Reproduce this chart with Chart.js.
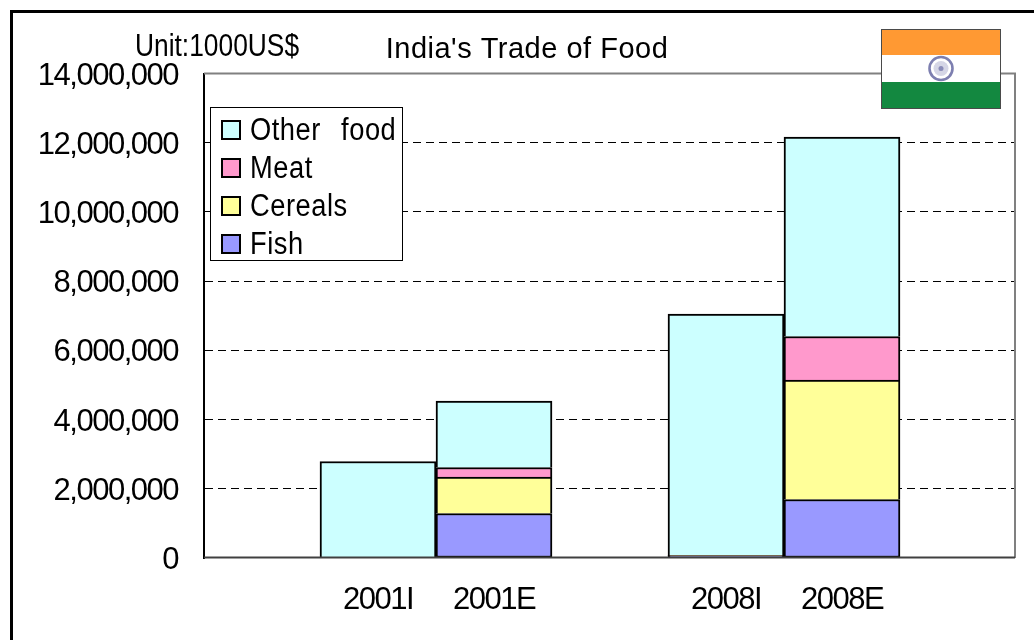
<!DOCTYPE html>
<html>
<head>
<meta charset="utf-8">
<style>
html,body{margin:0;padding:0;background:#fff;overflow:hidden}
#wrap{position:relative;width:1034px;height:640px;overflow:hidden}
#frame{position:absolute;left:10px;top:10px;width:1100px;height:700px;border-left:3px solid #000;border-top:3px solid #000;pointer-events:none}
canvas{position:absolute;left:0;top:0}
#unit{position:absolute;left:135px;top:28px;font:31px "Liberation Sans",sans-serif;color:#000;line-height:36px;white-space:nowrap;transform:scaleX(.85);transform-origin:left center}
#legend{position:absolute;left:210px;top:107px;width:191px;height:152px;border:1px solid #000;background:#fff}
.row{position:absolute;left:10px;height:38px;display:flex;align-items:center;font:31px "Liberation Sans",sans-serif;white-space:nowrap}
.sw{width:16px;height:16px;border:2px solid #000;margin-right:9px;flex:none}
.tx{display:inline-block;letter-spacing:.6px;word-spacing:13.8px;transform:scaleX(.88);transform-origin:left center;position:relative}
#flag{position:absolute;left:881px;top:29px}
</style>
</head>
<body>
<div id="wrap">
<canvas id="c" width="1034" height="640"></canvas>
<div id="frame"></div>
<div id="unit">Unit:1000US$</div>
<div id="legend"></div>
<svg id="flag" width="120" height="80" viewBox="0 0 120 80">
<rect x="0" y="0" width="120" height="26" fill="#FF9933"/>
<rect x="0" y="26" width="120" height="27" fill="#FFFFFF"/>
<rect x="0" y="53" width="120" height="27" fill="#138840"/>
<rect x=".5" y=".5" width="119" height="79" fill="none" stroke="#4a4a4a"/>
<circle cx="60" cy="39.5" r="11.5" fill="#fff" stroke="#7d7fb0" stroke-width="2.6"/>
<circle cx="60" cy="39.5" r="7.5" fill="#d5d6e6"/>
<circle cx="60" cy="39.5" r="2.5" fill="#8a8cb8"/>
</svg>
</div>
<script src="https://cdn.jsdelivr.net/npm/chart.js@4/dist/chart.umd.min.js"></script>
<script>
const categories = ['', '2001I', '2001E', '', '2008I', '2008E', ''];
const fish      = [null, null,    1286000, null, 60000,   1690000, null];
const cereals   = [null, null,    1055000, null, 10000,   3453000, null];
const meat      = [null, null,     274000, null, 5000,    1257000, null];
const otherFood = [null, 2788000, 1922000, null, 6975000, 5765000, null];
const seriesNames = ['Fish', 'Cereals', 'Meat', 'Other food'];
const seriesColors = ['#9999FF', '#FFFF99', '#FF99CC', '#CCFFFF'];
const seriesValues = [fish, cereals, meat, otherFood];
const tickStep = 2000000;
const tickMax = 14000000;
const chartTitle = "India's Trade of Food";
const FONT = '"Liberation Sans",sans-serif';

function withSpacing(obj, method, ctx, spacing) {
  const d = obj[method];
  obj[method] = function (...args) {
    ctx.letterSpacing = spacing;
    d.apply(this, args);
    ctx.letterSpacing = '0px';
  };
}

const framePlugin = {
  id: 'plotBorder',
  afterInit(chart) {
    if (chart.titleBlock) withSpacing(chart.titleBlock, 'draw', chart.ctx, '0.5px');
  },
  beforeDraw(chart) {
    if (chart.$patched) return;
    chart.$patched = true;
    withSpacing(chart.scales.x, 'drawLabels', chart.ctx, '-1.5px');
    withSpacing(chart.scales.y, 'drawLabels', chart.ctx, '-1.5px');
  },
  beforeDatasetsDraw(chart) {
    const {ctx, chartArea: a} = chart;
    ctx.save();
    ctx.strokeStyle = '#808080';
    ctx.lineWidth = 2;
    ctx.beginPath();
    ctx.moveTo(a.left, a.top);
    ctx.lineTo(a.right - 1, a.top);
    ctx.lineTo(a.right - 1, a.bottom);
    ctx.stroke();
    ctx.restore();
  },
  afterDatasetsDraw(chart) {
    const {ctx, chartArea: a} = chart;
    ctx.save();
    ctx.strokeStyle = '#404040';
    ctx.lineWidth = 2;
    ctx.beginPath();
    ctx.moveTo(a.left, a.bottom - 0.5);
    ctx.lineTo(a.right - 1, a.bottom - 0.5);
    ctx.stroke();
    ctx.restore();
  }
};

const chart = new Chart(document.getElementById('c'), {
  type: 'bar',
  data: {
    labels: categories,
    datasets: seriesNames.map((n, i) => ({
      label: n,
      data: seriesValues[i],
      backgroundColor: seriesColors[i],
      borderColor: '#000',
      borderWidth: 2,
      borderSkipped: i === 0 ? false : 'start',
      barPercentage: 1,
      categoryPercentage: 1
    }))
  },
  options: {
    responsive: false,
    animation: false,
    layout: {padding: {left: 38, right: 18, top: 0, bottom: 0}},
    plugins: {
      legend: {display: false},
      tooltip: {enabled: false},
      title: {
        display: true,
        text: chartTitle,
        color: '#000',
        align: 'center',
        font: {family: FONT, size: 29, weight: 'normal', lineHeight: 1.2},
        padding: {top: 33, bottom: 5.7}
      }
    },
    scales: {
      x: {
        stacked: true,
        offset: true,
        grid: {display: false, drawTicks: false},
        border: {display: false},
        ticks: {color: '#000', font: {family: FONT, size: 31}, padding: 24, maxRotation: 0, autoSkip: false},
        afterFit(s) { s.height = 82; }
      },
      y: {
        stacked: true,
        min: 0,
        max: tickMax,
        grid: {color: c => (c.tick && c.tick.value === 0 ? 'rgba(0,0,0,0)' : '#000'), lineWidth: 1, drawTicks: false},
        border: {display: true, color: '#000', width: 2, dash: [8, 5], dashOffset: 0},
        ticks: {
          stepSize: tickStep,
          color: '#000',
          padding: 26,
          labelOffset: 2.5,
          font: {family: FONT, size: 31},
          callback: v => v.toLocaleString('en-US')
        },
        afterFit(s) { s.width = 166; }
      }
    }
  },
  plugins: [framePlugin]
});

const legend = document.getElementById('legend');
[3, 2, 1, 0].forEach((idx, row) => {
  const r = document.createElement('div');
  r.className = 'row';
  r.style.top = (3 + row * 38) + 'px';
  const s = document.createElement('span');
  s.className = 'sw';
  s.style.background = seriesColors[idx];
  const t = document.createElement('span');
  t.className = 'tx';
  t.textContent = seriesNames[idx];
  r.append(s, t);
  legend.append(r);
});
</script>
</body>
</html>
